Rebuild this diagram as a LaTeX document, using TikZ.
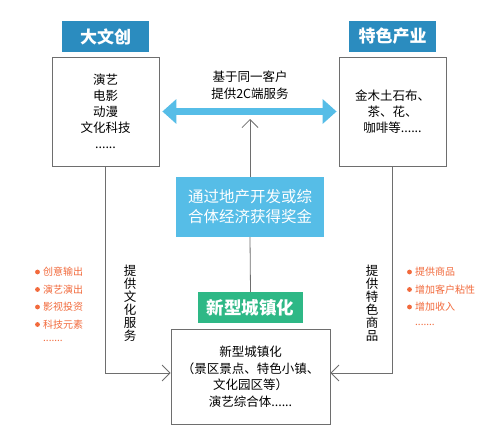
\documentclass[tikz,border=0pt]{standalone}
\usepackage{fontspec}
\setmainfont{Noto Sans CJK SC}
\usetikzlibrary{arrows.meta}
\definecolor{headblue}{HTML}{2B8CBF}
\definecolor{lightblue}{HTML}{56BDE7}
\definecolor{headgreen}{HTML}{2EB886}
\definecolor{itemorange}{HTML}{F26A3C}
\definecolor{linegray}{HTML}{6E6E6E}
\begin{document}
\begin{tikzpicture}[x=1pt,y=-1pt,
    head/.style={fill=headblue, text=white, font=\fontsize{17}{20}\selectfont\bfseries, minimum width=87pt, minimum height=31pt, inner sep=0pt},
    box/.style={draw=linegray, line width=0.8pt, fill=white, minimum width=107pt, minimum height=109pt, align=center, font=\fontsize{12.5}{16}\selectfont},
    conn/.style={draw=linegray, line width=0.8pt, -{Straight Barb[length=8pt,width=16pt]}},
    vtext/.style={align=center, font=\fontsize{12.5}{13}\selectfont, inner sep=0pt},
    item/.style={anchor=west, text=itemorange, font=\fontsize{10}{12}\selectfont, inner sep=0pt},
    dot/.style={fill=itemorange}]
    \useasboundingbox[fill=white] (0,0) rectangle (500,444);

    \node[head] (wenchuang) at (105.5,36.5) {大文创};
    \node[head] (tese) at (392.5,36.5) {特色产业};
    \node[box] (lbox) at (105.5,111.5) {演艺\\电影\\动漫\\文化科技\\......};
    \node[box] (rbox) at (392.5,111.5) {金木土石布、\\茶、花、\\咖啡等......};

    \draw[lightblue, line width=7pt, {Triangle[length=14pt,width=24pt]}-{Triangle[length=14pt,width=24pt]}, shorten <=3pt, shorten >=2pt] (lbox.east) -- (rbox.west);
    \node[align=center, font=\fontsize{12.5}{17}\selectfont] (twoc) at (250,85) {基于同一客户\\提供2C端服务};

    \node[fill=lightblue, text=white, minimum width=148pt, minimum height=60pt, align=center, font=\fontsize{15.5}{20}\selectfont] (jiangjin) at (250,207) {通过地产开发或综\\合体经济获得奖金};
    \coordinate (arrtip) at (250,119);
    \draw[conn] (jiangjin.north) -- (arrtip);

    \node[fill=headgreen, text=white, font=\fontsize{17.5}{20}\selectfont\bfseries, minimum width=105pt, minimum height=31pt, inner sep=0pt] (chengzhen) at (250.5,307.5) {新型城镇化};
    \draw[linegray, line width=0.8pt] (jiangjin.south) -- (chengzhen.north);
    \node[box, minimum width=159pt, minimum height=95pt, font=\fontsize{12.5}{16.5}\selectfont] (bbox) at (250.5,376.5) {新型城镇化\\（景区景点、特色小镇、\\文化园区等）\\演艺综合体......};

    \draw[conn] (lbox.south) |- ([yshift=3.5pt]bbox.west);
    \draw[conn] (rbox.south) |- ([yshift=3.5pt]bbox.east);
    \node[vtext] (wenhua) at (130,303) {提\\供\\文\\化\\服\\务};
    \node[vtext] (shangpin) at (372,303) {提\\供\\特\\色\\商\\品};

    % left list
    \node[item] (l1) at (43,272) {创意输出};
    \node[item] (l2) at (43,289.5) {演艺演出};
    \node[item] (l3) at (43,307) {影视投资};
    \node[item] (l4) at (43,324.5) {科技元素};
    \node[item] (l5) at (43,341) {.......};
    \fill[dot] ([xshift=-5.5pt]l1.west) circle (2.4pt);
    \fill[dot] ([xshift=-5.5pt]l2.west) circle (2.4pt);
    \fill[dot] ([xshift=-5.5pt]l3.west) circle (2.4pt);
    \fill[dot] ([xshift=-5.5pt]l4.west) circle (2.4pt);

    % right list
    \node[item] (r1) at (415,272) {提供商品};
    \node[item] (r2) at (415,289.5) {增加客户粘性};
    \node[item] (r3) at (415,307) {增加收入};
    \node[item] (r4) at (415,325) {.......};
    \fill[dot] ([xshift=-5.5pt]r1.west) circle (2.4pt);
    \fill[dot] ([xshift=-5.5pt]r2.west) circle (2.4pt);
    \fill[dot] ([xshift=-5.5pt]r3.west) circle (2.4pt);
\end{tikzpicture}
\end{document}
